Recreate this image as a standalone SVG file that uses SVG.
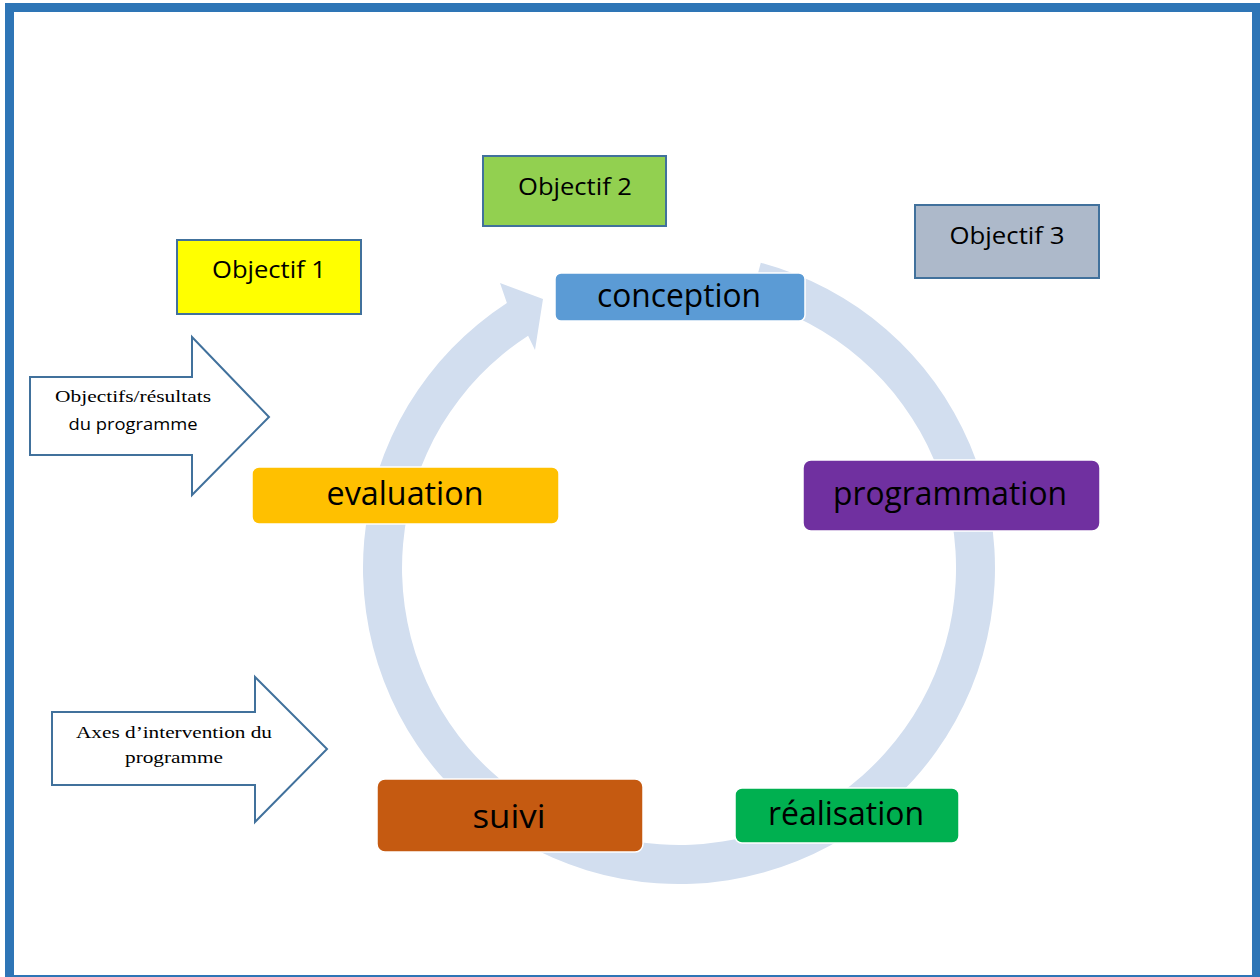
<svg xmlns="http://www.w3.org/2000/svg" width="1260" height="977" viewBox="0 0 1260 977">
  <style>
    .step { stroke: #ffffff; stroke-width: 1.5; }
    .step-label { font-family: "Open Sans", "Noto Sans", sans-serif; font-size: 32px; fill: #000000; text-anchor: middle; }
    .goal { stroke: #41719C; stroke-width: 2; }
    .goal-label { font-family: "Open Sans", "Noto Sans", sans-serif; font-size: 23px; fill: #000000; text-anchor: middle; }
    .block-arrow { fill: #ffffff; stroke: #41719C; stroke-width: 2; stroke-linejoin: miter; }
    .serif { font-family: "Liberation Serif", "Times New Roman", serif; font-size: 17px; fill: #000000; text-anchor: middle; }
    .sans { font-family: "Open Sans", "Noto Sans", sans-serif; font-size: 17px; fill: #000000; text-anchor: middle; }
    .frame { fill: #2E75B6; }
  </style>

  <rect x="0" y="0" width="1260" height="977" fill="#ffffff"/>

  <!-- page frame -->
  <g id="frame">
    <rect class="frame" x="5" y="3" width="1255" height="9"/>
    <rect class="frame" x="5" y="3" width="9" height="974"/>
    <rect class="frame" x="1252" y="3" width="8" height="974"/>
    <rect class="frame" x="5" y="975" width="1255" height="2"/>
  </g>

  <!-- circular cycle arrow -->
  <g id="connectors">
    <path fill="#D2DEEF" d="M 760.8 262.8 A 316 316 0 1 1 506.9 303.0 L 500 283 L 543 299 L 535 350 L 528.1 335.7 A 277 277 0 1 0 750.7 300.4 Z"/>
  </g>

  <!-- cycle steps -->
  <g id="conception">
    <rect class="step" x="555" y="273" width="250" height="48" rx="6" fill="#5B9BD5"/>
    <text class="step-label" x="679" y="307" textLength="164" lengthAdjust="spacingAndGlyphs">conception</text>
  </g>
  <g id="programmation">
    <rect class="step" x="803" y="460" width="297" height="71" rx="8" fill="#7030A0"/>
    <text class="step-label" x="950" y="505" textLength="234" lengthAdjust="spacingAndGlyphs">programmation</text>
  </g>
  <g id="realisation">
    <rect class="step" x="735" y="788" width="224" height="55" rx="7" fill="#00B050"/>
    <text class="step-label" x="846" y="825" font-size="33" textLength="156" lengthAdjust="spacingAndGlyphs">réalisation</text>
  </g>
  <g id="suivi">
    <rect class="step" x="377" y="779" width="266" height="73" rx="8" fill="#C55A11"/>
    <text class="step-label" x="509" y="828" font-size="38" textLength="73" lengthAdjust="spacingAndGlyphs">suivi</text>
  </g>
  <g id="evaluation">
    <rect class="step" x="252" y="467" width="307" height="57" rx="7" fill="#FFC000"/>
    <text class="step-label" x="405" y="505" font-size="30" textLength="157" lengthAdjust="spacingAndGlyphs">evaluation</text>
  </g>

  <!-- objectives -->
  <g id="objectif-1">
    <rect class="goal" x="177" y="240" width="184" height="74" fill="#FFFF00"/>
    <text class="goal-label" x="269" y="278" textLength="114" lengthAdjust="spacingAndGlyphs">Objectif 1</text>
  </g>
  <g id="objectif-2">
    <rect class="goal" x="483" y="156" width="183" height="70" fill="#92D050"/>
    <text class="goal-label" x="575" y="195" textLength="114" lengthAdjust="spacingAndGlyphs">Objectif 2</text>
  </g>
  <g id="objectif-3">
    <rect class="goal" x="915" y="205" width="184" height="73" fill="#ADB9CA"/>
    <text class="goal-label" x="1007" y="244" textLength="115" lengthAdjust="spacingAndGlyphs">Objectif 3</text>
  </g>

  <!-- input arrows -->
  <g id="arrow-objectifs">
    <polygon class="block-arrow" points="30,377 192,377 192,337 269,417 192,495 192,455 30,455"/>
    <text class="serif" x="133" y="402" textLength="156" lengthAdjust="spacingAndGlyphs">Objectifs/résultats</text>
    <text class="sans" x="133" y="430" textLength="129" lengthAdjust="spacingAndGlyphs">du  programme</text>
  </g>
  <g id="arrow-axes">
    <polygon class="block-arrow" points="52,712 255,712 255,677 327,749 255,822 255,785 52,785"/>
    <text class="serif" x="174" y="738" textLength="196" lengthAdjust="spacingAndGlyphs">Axes d’intervention du</text>
    <text class="serif" x="174" y="763" textLength="98" lengthAdjust="spacingAndGlyphs">programme</text>
  </g>
</svg>
